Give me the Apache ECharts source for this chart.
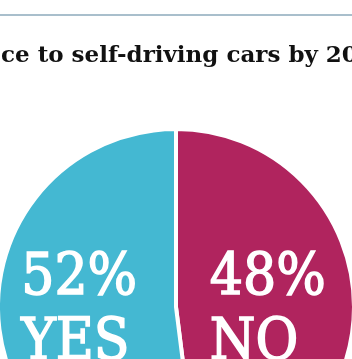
<!DOCTYPE html>
<html>
<head>
<meta charset="utf-8">
<script src="https://cdn.jsdelivr.net/npm/echarts@6/dist/echarts.min.js"></script>
<style>
html,body{margin:0;padding:0;background:#fff;}
#chart{width:352px;height:359px;}
</style>
</head>
<body>
<div id="chart"></div>
<script>
const titleText = "ce to self-driving cars by 2025";
const categories = ["NO", "YES"];
const values = [48, 52];
const colors = ["#b0245e", "#44b8d2"];

const chart = echarts.init(document.getElementById('chart'), null, {renderer: 'canvas'});
const titleFont = 'DejaVu Serif';
const labelFont = 'DejaVu Serif Condensed';
const labelShift = [[0, 10], [-5, -1]];
chart.setOption({
  animation: false,
  backgroundColor: '#ffffff',
  graphic: [
    {type: 'rect', shape: {x: 0, y: 14, width: 352, height: 2}, style: {fill: '#a9bfcc'}},
    {type: 'text', left: 1, top: 45, style: {text: titleText, fill: '#111111', fontSize: 23, fontWeight: 'bold', fontFamily: titleFont}}
  ],
  series: [{
    type: 'pie',
    center: [176, 307],
    radius: 178,
    startAngle: 90,
    clockwise: true,
    silent: true,
    itemStyle: {borderColor: '#ffffff', borderWidth: 4},
    label: {
      position: 'inside',
      formatter: function (p) { return '{a|' + p.value + '%}\n{a|' + p.name + '}'; },
      rich: {
        a: {color: '#ffffff', fontSize: 58, fontFamily: labelFont, lineHeight: 65, align: 'left',
            textBorderColor: '#ffffff', textBorderWidth: 1.5}
      }
    },
    labelLayout: function (p) {
      const s = labelShift[p.dataIndex];
      return {dx: s[0], dy: s[1]};
    },
    labelLine: {show: false},
    data: categories.map((c, i) => ({name: c, value: values[i], itemStyle: {color: colors[i]}}))
  }]
});
</script>
</body>
</html>
